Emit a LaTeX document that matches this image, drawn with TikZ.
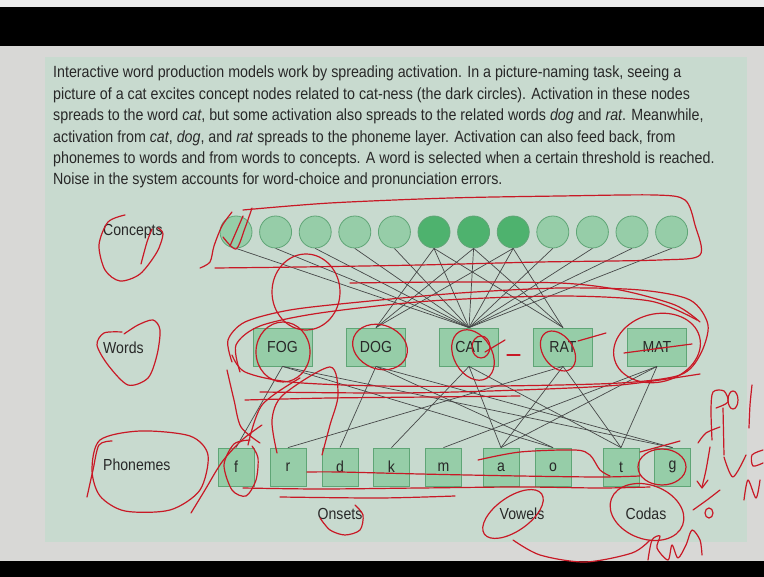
\documentclass[tikz,border=0pt]{standalone}
\usepackage{fontspec}
\setmainfont{Liberation Sans}[FakeStretch=0.88]
\definecolor{pagegray}{RGB}{216,216,214}
\definecolor{topstrip}{RGB}{236,236,236}
\definecolor{panelgreen}{RGB}{200,218,207}
\definecolor{nodelight}{RGB}{150,205,168}
\definecolor{nodedark}{RGB}{78,178,110}
\definecolor{nodeedge}{RGB}{95,165,118}
\definecolor{linkgray}{RGB}{70,72,72}
\definecolor{textgray}{RGB}{40,40,40}
\definecolor{inkred}{RGB}{200,25,38}
\tikzset{
  concept/.style={circle, draw=nodeedge, fill=nodelight, minimum size=32pt, inner sep=0pt, line width=0.8pt},
  hotconcept/.style={concept, fill=nodedark},
  wordbox/.style={rectangle, draw=nodeedge, fill=nodelight, minimum width=59pt, minimum height=38pt,
    inner sep=0pt, line width=0.8pt, text=textgray, font=\fontsize{16}{16}\selectfont},
  phonbox/.style={wordbox, minimum width=36pt},
  link/.style={draw=linkgray, line width=0.7pt},
  lbl/.style={text=textgray, font=\fontsize{16}{16}\selectfont, inner sep=0pt},
  para/.style={text=textgray, font=\fontsize{16.2}{21}\selectfont, inner sep=0pt, anchor=base west},
  ink/.style={draw=inkred, line width=1.2pt, line cap=round, line join=round},
}
\begin{document}
\begin{tikzpicture}[x=1pt,y=-1pt]
\useasboundingbox (0,0) rectangle (764,577);
% page, bars and panel
\fill[pagegray] (0,0) rectangle (764,577);
\fill[topstrip] (0,0) rectangle (764,7);
\fill[black] (0,7) rectangle (764,46);
\fill[black] (0,561) rectangle (764,577);
\fill[panelgreen] (45,57) rectangle (747,542);

% caption
\node[para] (t1) at (53,78)    {Interactive word production models work by spreading activation. In a picture-naming task, seeing a};
\node[para] (t2) at (53,99.4)  {picture of a cat excites concept nodes related to cat-ness (the dark circles). Activation in these nodes};
\node[para] (t3) at (53,120.8) {spreads to the word \textit{cat}, but some activation also spreads to the related words \textit{dog} and \textit{rat}. Meanwhile,};
\node[para] (t4) at (53,142.2) {activation from \textit{cat}, \textit{dog}, and \textit{rat} spreads to the phoneme layer. Activation can also feed back, from};
\node[para] (t5) at (53,163.6) {phonemes to words and from words to concepts. A word is selected when a certain threshold is reached.};
\node[para] (t6) at (53,185)   {Noise in the system accounts for word-choice and pronunciation errors.};

% layer labels
\node[lbl, anchor=west] (lc) at (103,232) {Concepts};
\node[lbl, anchor=west] (lw) at (103,348) {Words};
\node[lbl, anchor=west] (lp) at (103,465) {Phonemes};
\node[lbl] (lon) at (340,514) {Onsets};
\node[lbl] (lvo) at (522,514) {Vowels};
\node[lbl] (lco) at (646,514) {Codas};

% concept layer
\foreach \i in {1,...,12} {
  \pgfmathsetmacro{\cx}{236+39.6*(\i-1)}
  \ifnum\i>5 \ifnum\i<9
    \node[hotconcept] (c\i) at (\cx,232) {};
  \else
    \node[concept] (c\i) at (\cx,232) {};
  \fi\else
    \node[concept] (c\i) at (\cx,232) {};
  \fi
}

% word layer
\node[wordbox] (fog) at (282.5,347) {FOG};
\node[wordbox] (dog) at (376,347) {DOG};
\node[wordbox] (cat) at (469,347) {CAT};
\node[wordbox] (rat) at (563,347) {RAT};
\node[wordbox] (mat) at (657,347) {MAT};

% phoneme layer
\node[phonbox] (pf) at (236,467) {f};
\node[phonbox] (pr) at (288,467) {r};
\node[phonbox] (pd) at (340,467) {d};
\node[phonbox] (pk) at (391.5,467) {k};
\node[phonbox] (pm) at (443.5,467) {m};
\node[phonbox] (pa) at (501,467) {a};
\node[phonbox] (po) at (553,467) {o};
\node[phonbox] (pt) at (621,467) {t};
\node[phonbox] (pg) at (672.5,467) {g};

% concept -> word links
\foreach \i in {1,...,12} \draw[link] (c\i.south) -- (cat.north);
\foreach \i in {6,7,8} {
  \draw[link] (c\i.south) -- (dog.north);
  \draw[link] (c\i.south) -- (rat.north);
}

% word -> phoneme links
\foreach \w/\p in {fog/pf,fog/po,fog/pg,dog/pd,dog/po,dog/pg,cat/pk,cat/pa,cat/pt,
                   rat/pr,rat/pa,rat/pt,mat/pm,mat/pa,mat/pt}
  \draw[link] (\w.south) -- (\p.north);

% ---- red pen marks ----
% concept row loop, tick and brackets
\draw[ink] plot[smooth] coordinates {(243,210) (330,203) (450,198) (560,196) (655,195) (685,200) (695,225) (700,255) (660,260) (540,262) (420,265) (300,267) (215,268)};
\draw[ink] plot[smooth] coordinates {(232,212) (222,226) (214,246) (210,262) (200,268)};
\draw[ink] plot[smooth] coordinates {(223,237) (236,249) (245,228) (252,208)};
\draw[ink] (230,246) -- (243,216);
% label loops
\draw[ink] plot[smooth] coordinates {(125,215) (108,222) (99,245) (105,270) (120,281) (140,274) (157,252) (163,234) (158,228)};
\draw[ink] plot[smooth] coordinates {(141,264) (147,242) (152,229)};
\draw[ink] plot[smooth] coordinates {(122,332) (104,333) (97,345) (108,365) (128,385) (148,378) (157,355) (160,330) (153,320) (138,325) (124,334)};
\draw[ink] plot[smooth cycle] coordinates {(100,440) (140,431) (190,436) (208,455) (200,490) (170,510) (125,511) (100,496) (92,470)};
\draw[ink] plot[smooth] coordinates {(87,497) (93,470) (99,445) (112,441)};
\draw[ink] plot[smooth] coordinates {(191,513) (205,490) (222,462) (242,440) (262,425)};
% loop between concept and word rows
\draw[ink] (306,292) ellipse [x radius=34, y radius=38];
% word row loops
\draw[ink] plot[smooth] coordinates {(232,362) (228,340) (245,322) (290,310) (360,302) (460,293) (560,288) (640,290) (690,300) (708,325) (700,355) (680,375) (620,383) (500,386) (380,386) (290,382) (245,372) (232,355)};
\draw[ink] plot[smooth] coordinates {(240,372) (236,345) (260,326) (320,313) (430,301) (560,296) (650,301) (697,320)};
\draw[ink] plot[smooth] coordinates {(350,283) (450,282) (560,283) (620,290) (675,305) (700,322)};
\draw[ink] plot[smooth] coordinates {(260,392) (400,393) (520,390) (620,385) (700,374)};
\draw[ink] plot[smooth] coordinates {(245,400) (330,398) (430,397) (520,396)};
% word circles and strike-outs
\draw[ink] (283,352) ellipse [x radius=27, y radius=30];
\draw[ink, rotate around={-20:(380,347)}] (380,347) ellipse [x radius=28, y radius=22];
\draw[ink, rotate around={-60:(473,355)}] (473,355) ellipse [x radius=27, y radius=19];
\draw[ink] (481,347) ellipse [x radius=9, y radius=11];
\draw[ink, rotate around={-55:(558,351)}] (558,351) ellipse [x radius=22, y radius=15];
\draw[ink, rotate around={15:(657,348)}] (657,348) ellipse [x radius=44, y radius=34];
\draw[ink] (624,353) -- (692,344);
\draw[ink] (507,355) -- (520,355);
\draw[ink] (485,352) -- (505,340);
\draw[ink] (578,341) -- (606,333);
% strokes between word and phoneme rows
\draw[ink] plot[smooth] coordinates {(227,370) (234,400) (241,427) (260,443)};
\draw[ink] plot[smooth] coordinates {(277,453) (272,420) (283,395) (330,367) (338,395) (330,425) (322,455)};
\draw[ink] plot[smooth] coordinates {(248,445) (262,405) (300,378)};
% f loop
\draw[ink] plot[smooth] coordinates {(250,440) (234,444) (224,465) (232,490) (246,496) (256,480) (258,458) (252,446)};
% phoneme row lines
\draw[ink] plot[smooth] coordinates {(243,488) (320,489) (420,488) (520,487) (600,488) (650,487)};
\draw[ink] plot[smooth] coordinates {(280,497) (380,498) (455,496)};
\draw[ink] plot[smooth] coordinates {(307,472) (340,472) (420,474) (520,476) (600,477) (640,476)};
\draw[ink] plot[smooth] coordinates {(478,460) (520,452) (575,450) (590,455) (600,470) (610,476)};
\draw[ink] (662,467) ellipse [x radius=24, y radius=18];
\draw[ink] plot[smooth] coordinates {(640,452) (662,446) (680,441)};
% group labels
\draw[ink] plot[smooth] coordinates {(320,518) (330,530) (345,535) (360,530) (363,515) (355,505)};
\draw[ink, rotate around={35:(513,514)}] (513,514) ellipse [x radius=35, y radius=17];
\draw[ink, rotate around={-20:(647,512)}] (647,512) ellipse [x radius=38, y radius=27];
\draw[ink] plot[smooth] coordinates {(513,540) (540,555) (585,562) (632,553) (650,540)};
% margin notes
\draw[ink] plot[smooth] coordinates {(712,440) (711,410) (713,392) (724,391) (728,402) (716,408)};
\draw[ink] (733,400) ellipse [x radius=5, y radius=9];
\draw[ink] plot[smooth] coordinates {(752,385) (750,405) (749,428)};
\draw[ink] plot[smooth] coordinates {(698,443) (706,433) (720,427)};
\draw[ink] (723,408) -- (724,455);
\draw[ink] plot[smooth] coordinates {(710,447) (706,470) (702,487)};
\draw[ink] (697,481) -- (702,488) -- (708,480);
\draw[ink] plot[smooth] coordinates {(724,457) (733,477) (746,455)};
\draw[ink] plot[smooth] coordinates {(763,450) (752,455) (753,466) (763,463)};
\draw[ink] plot[smooth] coordinates {(744,500) (748,480) (756,498) (760,480)};
\draw[ink] plot[smooth] coordinates {(693,510) (707,500) (720,490)};
\draw[ink] (709,513) ellipse [x radius=4, y radius=5];
\draw[ink] plot[smooth] coordinates {(648,560) (652,540) (660,536) (657,548) (668,560) (672,545) (678,558) (686,545) (692,530) (700,540) (702,555)};
\end{tikzpicture}
\end{document}
